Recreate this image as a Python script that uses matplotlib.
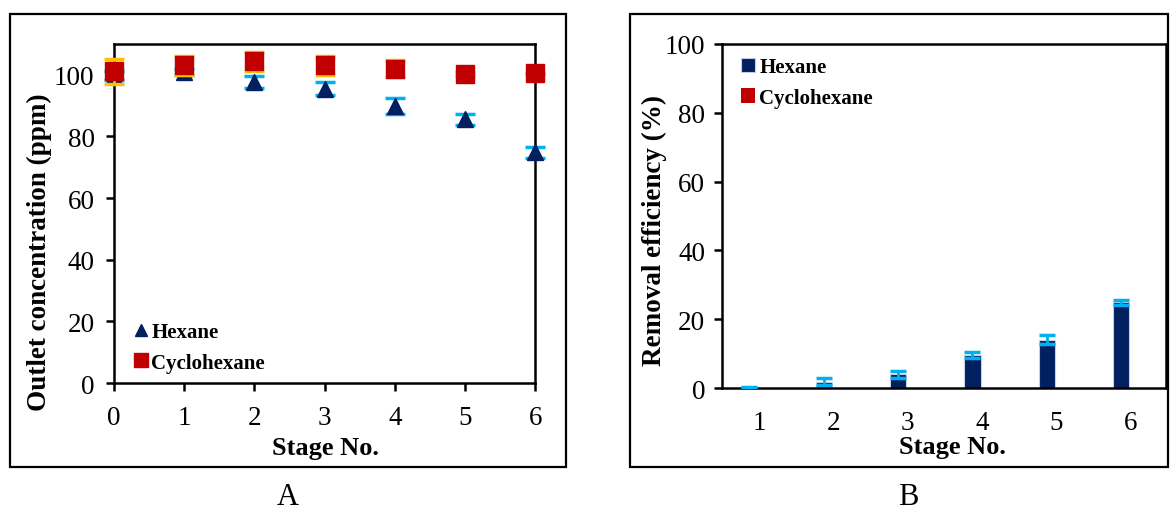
import matplotlib.pyplot as plt
import numpy as np
from matplotlib.patches import Rectangle

plt.rcParams['font.family'] = ['Liberation Serif', 'DejaVu Serif']

# Panel A: outlet concentration (ppm) per stage
stages_a = [0, 1, 2, 3, 4, 5, 6]
hexane_conc = [99.7, 101.0, 97.7, 95.5, 89.8, 85.5, 74.8]
hexane_conc_err = [1.5, 1.0, 2.0, 2.0, 2.5, 1.8, 1.9]
cyclo_conc = [101.1, 103.0, 104.3, 103.0, 102.0, 100.2, 100.4]
cyclo_conc_err = [4.0, 3.0, 3.0, 3.2, 2.8, 0.6, 0.3]

# Panel B: removal efficiency (%) per stage
stages_b = [1, 2, 3, 4, 5, 6]
hexane_eff = [0.1, 1.8, 4.0, 9.6, 14.1, 24.9]
hexane_eff_err = [0.2, 1.0, 1.0, 0.8, 1.3, 0.7]
cyclo_eff = [0, 0, 0, 0, 0, 0]

navy = '#002060'
red = '#C00000'
cyan = '#00B0F0'
gold = '#FFC000'

fig = plt.figure(figsize=(11.7, 5.1), dpi=100)

# outer frames around each panel
for x0, x1 in [(0.0085, 0.4838), (0.5385, 0.9985)]:
    fig.add_artist(Rectangle((x0, 0.082), x1 - x0, 0.889, transform=fig.transFigure,
                             fill=False, edgecolor='black', linewidth=1.6))

# ---- Panel A ----
ax1 = fig.add_axes([0.0974, 0.247, 0.360, 0.665])
ax1.errorbar(stages_a, hexane_conc, yerr=hexane_conc_err, fmt='none', ecolor=cyan,
             elinewidth=2, capsize=7, capthick=2.5, clip_on=False, zorder=2)
ax1.plot(stages_a, hexane_conc, '^', color=navy, markersize=11, linestyle='none',
         clip_on=False, zorder=3, label='Hexane')
ax1.errorbar(stages_a, cyclo_conc, yerr=cyclo_conc_err, fmt='none', ecolor=gold,
             elinewidth=2, capsize=7, capthick=2.5, clip_on=False, zorder=4)
ax1.plot(stages_a, cyclo_conc, 's', color=red, markersize=13, linestyle='none',
         clip_on=False, zorder=5, label='Cyclohexane')
ax1.set_xlim(0, 6)
ax1.set_ylim(0, 110)
ax1.set_xticks(stages_a)
ax1.set_yticks(np.arange(0, 101, 20))
ax1.tick_params(labelsize=19.5, direction='out', length=6, width=1.8, pad=8)
ax1.tick_params(axis='x', pad=10)
for s in ax1.spines.values():
    s.set_linewidth(1.8)
ax1.set_xlabel('Stage No.', fontsize=19, fontweight='bold', va='center')
ax1.set_ylabel('Outlet concentration (ppm)', fontsize=19.5, fontweight='bold', va='center')
ax1.xaxis.set_label_coords(0.503, -0.19)
ax1.yaxis.set_label_coords(-0.176, 0.39)
ax1.legend(loc='lower left', bbox_to_anchor=(0.0, -0.025), frameon=False,
           prop={'size': 15, 'weight': 'bold'}, handlelength=0.8, handletextpad=0.1,
           markerscale=0.75, labelspacing=0.5)
fig.text(0.246, 0.01, 'A', fontsize=22, ha='center')

# ---- Panel B ----
ax2 = fig.add_axes([0.617, 0.237, 0.380, 0.675])
w = 0.22
xb = np.array(stages_b)
ax2.bar(xb - 0.13, hexane_eff, width=w, color=navy, edgecolor='#C8D0E0', linewidth=0.8,
        label='Hexane', zorder=2)
ax2.errorbar(xb - 0.13, hexane_eff, yerr=hexane_eff_err, fmt='none', ecolor=cyan,
             elinewidth=2, capsize=6, capthick=2.5, zorder=3)
ax2.bar(xb + 0.13, cyclo_eff, width=w, color=red, label='Cyclohexane', zorder=2)
ax2.set_xlim(0.5, 6.48)
ax2.set_ylim(0, 100)
ax2.set_xticks(stages_b)
ax2.set_yticks(np.arange(0, 101, 20))
ax2.tick_params(labelsize=19.5, direction='out', length=6, width=1.8, pad=6)
ax2.tick_params(axis='x', length=0, pad=16)
for s in ax2.spines.values():
    s.set_linewidth(1.8)
ax2.set_xlabel('Stage No.', fontsize=19, fontweight='bold', va='center')
ax2.set_ylabel('Removal efficiency (%)', fontsize=19.5, fontweight='bold', va='center')
ax2.xaxis.set_label_coords(0.519, -0.169)
ax2.yaxis.set_label_coords(-0.151, 0.46)
ax2.legend(loc='upper left', bbox_to_anchor=(0.0, 1.015), frameon=False,
           prop={'size': 15, 'weight': 'bold'},
           handlelength=0.7, handleheight=0.7, handletextpad=0.2, labelspacing=0.5)
fig.text(0.776, 0.01, 'B', fontsize=22, ha='center')

fig.savefig('out.png', dpi=100)
